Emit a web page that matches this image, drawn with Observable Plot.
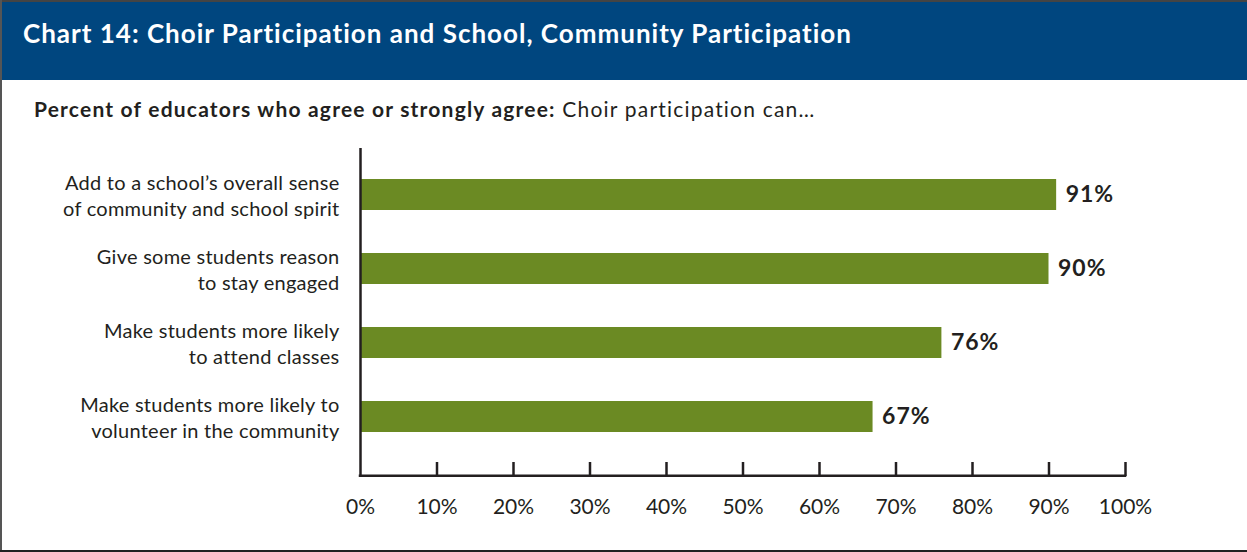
<!DOCTYPE html>
<html>
<head>
<meta charset="utf-8">
<script src="https://cdn.jsdelivr.net/npm/d3@7"></script>
<script src="https://cdn.jsdelivr.net/npm/@observablehq/plot@0.6"></script>
<style>
  html, body { margin: 0; padding: 0; background: #fff; }
  #wrap { position: relative; width: 1247px; height: 552px; overflow: hidden; font-family: Lato, "Open Sans", sans-serif; color: #231f20; background: #fff; }
  #topline { position: absolute; left: 0; top: 0; width: 1247px; height: 2px; background: #444; }
  #leftline { position: absolute; left: 0; top: 0; width: 2px; height: 552px; background: #555; }
  #bottomline { position: absolute; left: 0; top: 550px; width: 1247px; height: 2px; background: #222; }
  #header { position: absolute; left: 2px; top: 2px; width: 1245px; height: 78px; background: #00467f; }
  #title { position: absolute; left: 23px; top: 21px; font-size: 26px; line-height: 25px; letter-spacing: 1px; font-weight: bold; color: #fff; white-space: nowrap; }
  #subtitle { position: absolute; left: 34px; top: 98px; font-size: 21px; line-height: 21px; letter-spacing: 1.2px; white-space: nowrap; }
  #chart { position: absolute; left: 0; top: 140px; }
</style>
</head>
<body>
<div id="wrap">
  <div id="header"></div>
  <div id="topline"></div>
  <div id="leftline"></div>
  <div id="bottomline"></div>
  <div id="title">Chart 14: Choir Participation and School, Community Participation</div>
  <div id="subtitle"><b>Percent of educators who agree or strongly agree:</b> Choir participation can…</div>
  <div id="chart"></div>
</div>
<script>
const categories = [
  "Add to a school’s overall sense\nof community and school spirit",
  "Give some students reason\nto stay engaged",
  "Make students more likely\nto attend classes",
  "Make students more likely to\nvolunteer in the community"
];
const values = [91, 90, 76, 67];
const tickValues = [0, 10, 20, 30, 40, 50, 60, 70, 80, 90, 100];

const data = categories.map((c, i) => ({category: c, value: values[i]}));

const W = 1247, H = 412, mTop = 8, mBottom = 76, mLeft = 360, mRight = 122;
const plotH = H - mTop - mBottom;
const ink = "#231f20";

const chart = Plot.plot({
  width: W,
  height: H,
  marginTop: mTop,
  marginBottom: mBottom,
  marginLeft: mLeft,
  marginRight: mRight,
  style: {fontFamily: "Lato, 'Open Sans', sans-serif", color: ink, background: "transparent", overflow: "visible"},
  x: {domain: [0, 100], label: null},
  y: {domain: categories, label: null, paddingInner: 0.58, paddingOuter: 0.506, align: 0.42},
  marks: [
    Plot.barX(data, {x: "value", y: "category", fill: "#6b8a23"}),
    Plot.ruleX([0], {stroke: ink, strokeWidth: 2.5}),
    Plot.barX([{}], {x1: () => 0, x2: () => 100, fill: ink, insetTop: plotH - 1.5, insetBottom: -1, insetLeft: -1.25, insetRight: -1.25}),
    Plot.ruleX(tickValues.slice(1), {x: d => d, stroke: ink, strokeWidth: 2.5, insetTop: plotH - 14}),
    Plot.axisX({ticks: tickValues, tickFormat: d => d + "%", tickSize: 0, tickPadding: 23, fontSize: 21, fill: ink, label: null}),
    Plot.axisY({tickSize: 0, tickPadding: 21, fontSize: 20, lineHeight: 1.3, fill: ink, label: null}),
    Plot.text(data, {x: "value", y: "category", text: d => d.value + "%", dx: 9, textAnchor: "start", fontWeight: "bold", fontSize: 23, fill: ink})
  ]
});
const yLab = chart.querySelector('g[aria-label="y-axis tick label"]');
if (yLab) yLab.setAttribute("letter-spacing", "0.25");
const valLab = chart.querySelector('g[aria-label="text"]');
if (valLab) valLab.setAttribute("letter-spacing", "1");
document.getElementById("chart").appendChild(chart);
</script>
</body>
</html>
